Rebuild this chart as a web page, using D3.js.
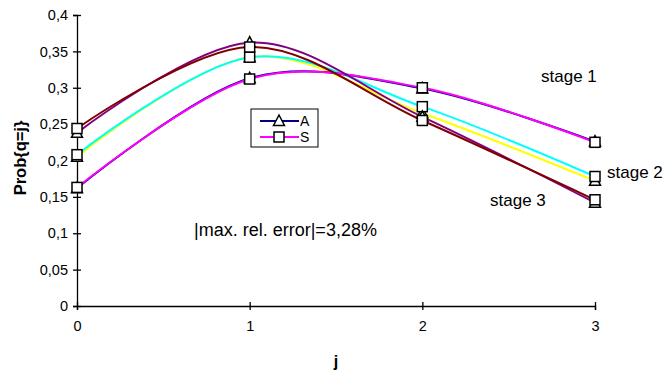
<!DOCTYPE html>
<html><head><meta charset="utf-8">
<script src="https://cdn.jsdelivr.net/npm/d3@7"></script>
<style>body{margin:0;background:#fff}svg{display:block;font-family:"Liberation Sans",Arial,sans-serif}</style>
</head><body><svg id="c" width="666" height="371"></svg>
<script>
const jValues = [0, 1, 2, 3];
const yTicks = [0, 0.05, 0.1, 0.15, 0.2, 0.25, 0.3, 0.35, 0.4];
const yTickLabels = ["0", "0,05", "0,1", "0,15", "0,2", "0,25", "0,3", "0,35", "0,4"];
const stage1A = [0.162, 0.313, 0.299, 0.226];
const stage1S = [0.163, 0.312, 0.300, 0.225];
const stage2A = [0.205, 0.342, 0.265, 0.172];
const stage2S = [0.208, 0.342, 0.274, 0.178];
const stage3A = [0.238, 0.362, 0.260, 0.142];
const stage3S = [0.244, 0.356, 0.255, 0.146];
const seriesNames = ["A", "S"];
const stageLabels = ["stage 1", "stage 2", "stage 3"];
const annotation = "|max. rel. error|=3,28%";

const series = [
  {v: stage1A, color: "#000080", marker: "tri"},
  {v: stage1S, color: "#FF00FF", marker: "sq"},
  {v: stage2A, color: "#FFFF00", marker: "tri"},
  {v: stage2S, color: "#00FFFF", marker: "sq"},
  {v: stage3A, color: "#800080", marker: "tri"},
  {v: stage3S, color: "#800000", marker: "sq"}
];

const svg = d3.select("#c");
const x = d3.scaleLinear().domain([0, 3]).range([77, 595]);
const y = d3.scaleLinear().domain([0, 0.4]).range([306, 15]);

// axes
const yAxis = d3.axisLeft(y).tickValues(yTicks).tickFormat((d,i)=>yTickLabels[i]).tickSize(4).tickPadding(5);
const gy = svg.append("g").attr("transform","translate(77,0)").call(yAxis);
gy.select(".domain").attr("stroke","#000").attr("stroke-width",1.3);
gy.selectAll(".tick line").attr("x1",4).attr("x2",-4).attr("stroke","#000").attr("stroke-width",1.3);
gy.selectAll("text").attr("font-size",14.5).attr("fill","#000");

const xAxis = d3.axisBottom(x).tickValues(jValues).tickFormat(d3.format("d")).tickSize(4).tickPadding(11);
const gx = svg.append("g").attr("transform","translate(0,306)").call(xAxis);
gx.select(".domain").attr("stroke","#000").attr("stroke-width",1.3);
gx.selectAll(".tick line").attr("y1",-4).attr("y2",4).attr("stroke","#000").attr("stroke-width",1.3);
gx.selectAll("text").attr("font-size",14.5).attr("fill","#000");

svg.append("text").attr("x",336).attr("y",367).attr("text-anchor","middle")
  .attr("font-size",16).attr("font-weight","bold").text("j");
svg.append("text").attr("transform","translate(26,158) rotate(-90)").attr("text-anchor","middle")
  .attr("font-size",16.5).attr("font-weight","bold").text("Prob{q=j}");

// lines
const line = d3.line().x((d,i)=>x(jValues[i])).y(d=>y(d)).curve(d3.curveCardinal.tension(0));
const order = [2,3,0,1,4,5];
order.forEach(k=>{
  const s = series[k];
  svg.append("path").attr("d", line(s.v)).attr("fill","none").attr("stroke",s.color).attr("stroke-width",2);
});

function drawMarker(g, type, cx, cy){
  if(type==="sq"){
    g.append("rect").attr("x",cx-5).attr("y",cy-5).attr("width",10).attr("height",10)
      .attr("fill","#fff").attr("stroke","#000").attr("stroke-width",1.5);
  } else {
    g.append("path").attr("d",`M${cx},${cy-6}L${cx+5.5},${cy+4.5}L${cx-5.5},${cy+4.5}Z`)
      .attr("fill","#fff").attr("stroke","#000").attr("stroke-width",1.5);
  }
}
const mg = svg.append("g");
series.forEach(s=>{ s.v.forEach((v,i)=>drawMarker(mg, s.marker, x(jValues[i]), y(v))); });

// legend
const lg = svg.append("g");
lg.append("rect").attr("x",251).attr("y",109).attr("width",67).attr("height",38)
  .attr("fill","#fff").attr("stroke","#000").attr("stroke-width",1);
[["A","#000080","tri",121],["S","#FF00FF","sq",137]].forEach((r,i)=>{
  lg.append("line").attr("x1",260).attr("x2",299).attr("y1",r[3]).attr("y2",r[3]).attr("stroke",r[1]).attr("stroke-width",2);
  drawMarker(lg, r[2], 279, r[3]);
  lg.append("text").attr("x",300).attr("y",r[3]+5).attr("font-size",14).text(seriesNames[i]);
});

// labels
svg.append("text").attr("x",541).attr("y",82).attr("font-size",17).text(stageLabels[0]);
svg.append("text").attr("x",607).attr("y",178).attr("font-size",17).text(stageLabels[1]);
svg.append("text").attr("x",490).attr("y",206).attr("font-size",17).text(stageLabels[2]);
svg.append("text").attr("x",194).attr("y",236).attr("font-size",18).text(annotation);
</script></body></html>
